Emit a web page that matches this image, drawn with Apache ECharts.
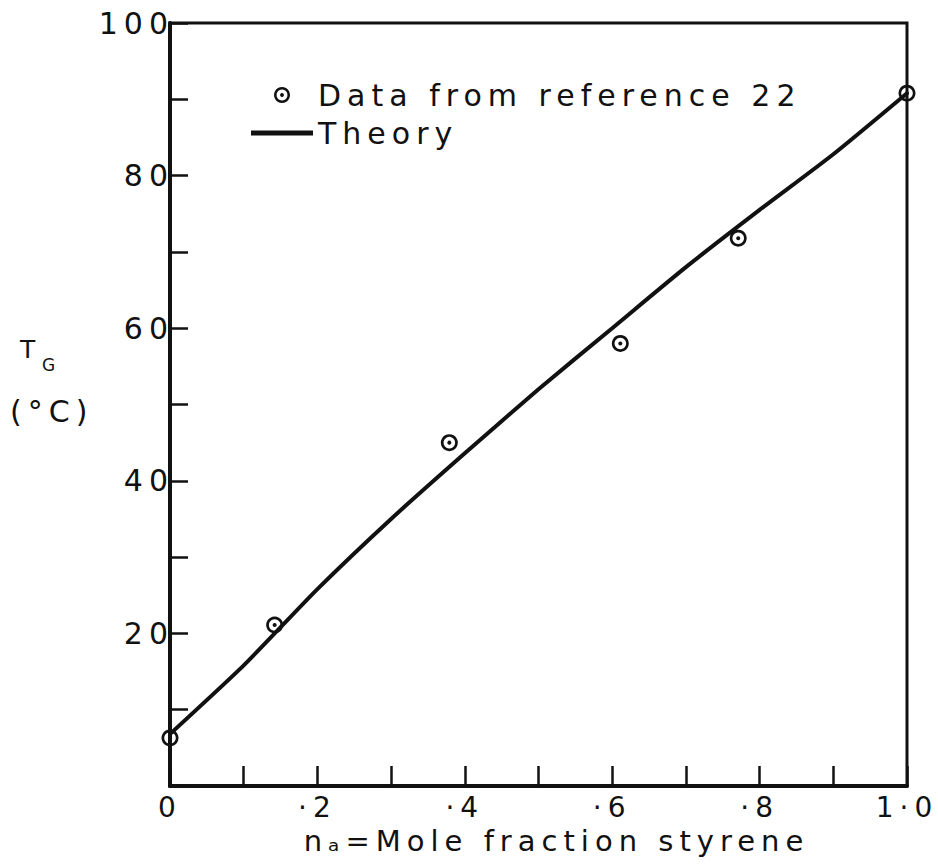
<!DOCTYPE html>
<html>
<head>
<meta charset="utf-8">
<script src="https://cdn.jsdelivr.net/npm/echarts@6/dist/echarts.min.js"></script>
<style>
  html, body { margin: 0; padding: 0; background: #fff; }
  #chart { width: 938px; height: 864px; }
  /* old stencil lettering is widely spaced */
  #chart text { letter-spacing: 6px; }
</style>
</head>
<body>
<div id="chart"></div>
<script>
// measured points (reference 22)
const dataX = [0, 0.142, 0.379, 0.611, 0.771, 1.0];
const dataY = [6.3, 21.1, 45.0, 58.0, 71.8, 90.8];
// theory curve
const theoryX = [0, 0.1, 0.2, 0.3, 0.4, 0.5, 0.6, 0.7, 0.8, 0.9, 1.0];
const theoryY = [6.8, 15.8, 25.8, 35.0, 43.6, 52.0, 60.0, 68.0, 75.5, 82.8, 90.8];
// tick labels
const xTickLabels = ['0', '·2', '·4', '·6', '·8', '1·0'];
const yTickLabels = ['', '20', '40', '60', '80', '100'];
// axis titles
const xTitle = 'nₐ=Mole fraction styrene';
const yTitle = ['T', 'G', '(°C)'];

const ink = '#111';
const font = 'DejaVu Sans';
// ring with a dot in the middle
const ringPath = 'path://M10,0 A10,10 0 1,1 9.99,0 Z M10,3.2 A6.8,6.8 0 1,0 10.01,3.2 Z M10,7.6 A2.4,2.4 0 1,1 9.99,7.6 Z';
const barPath = 'path://M0,0 H60 V5 H0 Z';

const pts = dataX.map((x, i) => [x, dataY[i]]);
const curve = theoryX.map((x, i) => [x, theoryY[i]]);

const chart = echarts.init(document.getElementById('chart'), null, { renderer: 'svg' });
chart.setOption({
  backgroundColor: '#fff',
  animation: false,
  grid: {
    left: 170, right: 31, top: 23, bottom: 78,
    show: true, borderColor: ink, borderWidth: 3
  },
  // y title: T with subscript G, then (°C)
  graphic: [
    { type: 'text', left: 20, top: 337, style: { text: yTitle[0], font: '25px ' + font, fill: ink } },
    { type: 'text', left: 42, top: 356, style: { text: yTitle[1], font: '17px ' + font, fill: ink } },
    { type: 'text', left: 10, top: 396, style: { text: yTitle[2], font: '30px ' + font, fill: ink } }
  ],
  legend: {
    orient: 'vertical',
    left: 246, top: 75,
    itemWidth: 62, itemHeight: 16, itemGap: 8,
    textStyle: { fontFamily: font, fontSize: 30, color: ink },
    data: [
      { name: 'Data from reference 22', icon: ringPath },
      { name: 'Theory', icon: barPath }
    ]
  },
  xAxis: {
    type: 'value', min: 0, max: 1, interval: 0.1,
    axisLine: { lineStyle: { color: ink, width: 4 } },
    axisTick: { inside: true, length: 20, lineStyle: { color: ink, width: 2.5 } },
    splitLine: { show: false },
    axisLabel: {
      margin: 7, fontFamily: font, fontSize: 28, color: ink,
      formatter: v => {
        const k = Math.round(v * 10);
        return k % 2 === 0 ? xTickLabels[k / 2] : '';
      }
    },
    name: xTitle,
    nameLocation: 'middle', nameGap: 40,
    nameTextStyle: { fontFamily: font, fontSize: 29, color: ink, padding: [0, 0, 0, 36] }
  },
  yAxis: {
    type: 'value', min: 0, max: 100, interval: 10,
    axisLine: { lineStyle: { color: ink, width: 4 } },
    axisTick: { inside: true, length: 18, lineStyle: { color: ink, width: 2.5 } },
    splitLine: { show: false },
    axisLabel: {
      margin: -4, fontFamily: font, fontSize: 30, color: ink,
      formatter: v => (Math.round(v) % 20 === 0 ? yTickLabels[Math.round(v) / 20] : '')
    }
  },
  series: [
    {
      name: 'Theory',
      type: 'line',
      data: curve,
      symbol: 'none',
      smooth: 0.2,
      color: ink,
      lineStyle: { color: ink, width: 4 },
      z: 2
    },
    {
      name: 'Data from reference 22',
      type: 'scatter',
      data: pts,
      symbol: ringPath,
      symbolSize: 17,
      clip: false,
      itemStyle: { color: ink, opacity: 1 },
      z: 3
    }
  ]
});
</script>
</body>
</html>
